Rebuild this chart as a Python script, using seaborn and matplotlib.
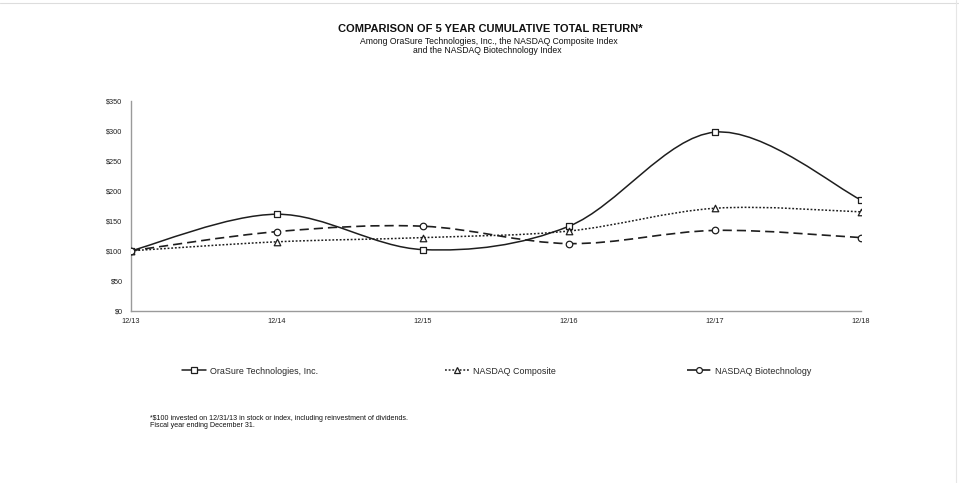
import numpy as np
import pandas as pd
import matplotlib
matplotlib.use("Agg")
import matplotlib.pyplot as plt
import seaborn as sns
from matplotlib.path import Path
from matplotlib.patches import PathPatch
from matplotlib.lines import Line2D

# ---- data ----
periods = ["12/13", "12/14", "12/15", "12/16", "12/17", "12/18"]
orasure = [100, 161, 102, 141, 298, 185]
nasdaq_comp = [100, 115, 122, 133, 171, 165]
nasdaq_bio = [100, 132, 141, 112, 134, 122]
series_names = ["OraSure Technologies, Inc.", "NASDAQ Composite", "NASDAQ Biotechnology"]
yticks = [0, 50, 100, 150, 200, 250, 300, 350]

sns.set_theme(style="white")
plt.rcParams['font.family'] = ['Liberation Sans', 'DejaVu Sans']

fig = plt.figure(figsize=(9.59, 4.83), dpi=100)
ax = fig.add_axes([131/959, 1-310.7/483, (861-131)/959, (310.7-101)/483])

x = np.arange(len(periods))
df = pd.DataFrame({"x": np.tile(x, 3),
                   "value": orasure + nasdaq_comp + nasdaq_bio,
                   "series": np.repeat(series_names, len(periods))})

styles = {
    series_names[0]: dict(ls="-", marker="s", lw=1.1),
    series_names[1]: dict(ls=(0, (1.2, 1.2)), marker="^", lw=1.1),
    series_names[2]: dict(ls=(0, (5.5, 3)), marker="o", lw=1.2),
}
line_color = "#1e1e1e"


def smooth_path(xs, ys):
    pts = np.column_stack([xs, ys]).astype(float)
    n = len(pts)
    verts = [pts[0]]
    codes = [Path.MOVETO]
    for i in range(n - 1):
        p0 = pts[i - 1] if i > 0 else pts[i]
        p1 = pts[i]
        p2 = pts[i + 1]
        p3 = pts[i + 2] if i + 2 < n else pts[i + 1]
        c1 = p1 + (p2 - p0) / 6.0
        c2 = p2 - (p3 - p1) / 6.0
        verts += [c1, c2, p2]
        codes += [Path.CURVE4] * 3
    return Path(verts, codes)


for name in series_names:
    sub = df[df.series == name]
    st = styles[name]
    patch = PathPatch(smooth_path(sub.x.values, sub.value.values), facecolor="none",
                      edgecolor=line_color, lw=st["lw"], linestyle=st["ls"], zorder=2)
    ax.add_patch(patch)
    sns.scatterplot(data=sub, x="x", y="value", marker=st["marker"], s=22,
                    facecolor="white", edgecolor=line_color, linewidth=0.9,
                    ax=ax, zorder=3, legend=False)

ax.set_xlim(0, len(periods) - 1)
ax.set_ylim(0, 350)
ax.set_xticks(x)
ax.set_xticklabels(periods)
ax.set_yticks(yticks)
ax.set_yticklabels([f"${v}" for v in yticks])
ax.set_xlabel("")
ax.set_ylabel("")
for s in ["top", "right"]:
    ax.spines[s].set_visible(False)
for s in ["left", "bottom"]:
    ax.spines[s].set_color("#9a9a9a")
    ax.spines[s].set_linewidth(1.0)
ax.tick_params(axis="x", direction="inout", length=4, width=0.8, color="#9a9a9a",
               labelsize=5.3, pad=3, labelcolor="#222222")
ax.tick_params(axis="y", direction="out", length=3, width=0.8, color="#9a9a9a",
               labelsize=5.3, pad=3, labelcolor="#222222")
ax.grid(False)
ax.set_facecolor("white")

# ---- titles ----
fig.text(490/959, 1-29/483, "COMPARISON OF 5 YEAR CUMULATIVE TOTAL RETURN*",
         ha="center", va="center", fontsize=8, fontweight="bold", color="#111111")
fig.text(489/959, 1-42/483, "Among OraSure Technologies, Inc., the NASDAQ Composite Index",
         ha="center", va="center", fontsize=6.2, color="#111111")
fig.text(487/959, 1-50.5/483, "and the NASDAQ Biotechnology Index",
         ha="center", va="center", fontsize=6.2, color="#111111")

# ---- legend (three entries placed separately) ----
legend_x = [182, 445, 687]
for name, lx in zip(series_names, legend_x):
    st = styles[name]
    h = Line2D([0], [0], color=line_color, lw=st["lw"], linestyle=st["ls"],
               marker=st["marker"], markersize=4.2, markerfacecolor="white",
               markeredgecolor=line_color, markeredgewidth=0.9)
    leg = fig.legend([h], [name], loc="center left",
                     bbox_to_anchor=(lx/959, 1-371/483), frameon=False,
                     fontsize=6.4, handlelength=2.7, handletextpad=0.4,
                     borderpad=0, borderaxespad=0)

# ---- footnote ----
fig.text(150/959, 1-418/483,
         "*$100 invested on 12/31/13 in stock or index, including reinvestment of dividends.",
         ha="left", va="center", fontsize=5.1, color="#111111")
fig.text(150/959, 1-425.5/483, "Fiscal year ending December 31.",
         ha="left", va="center", fontsize=5.1, color="#111111")

# faint page border
fig.add_artist(Line2D([0, 1], [1-3/483, 1-3/483], transform=fig.transFigure,
                      color="#dddddd", lw=0.8))
fig.add_artist(Line2D([956/959, 956/959], [0, 1], transform=fig.transFigure,
                      color="#e6e6e6", lw=0.8))

fig.savefig("out.png", dpi=100, facecolor="white")
